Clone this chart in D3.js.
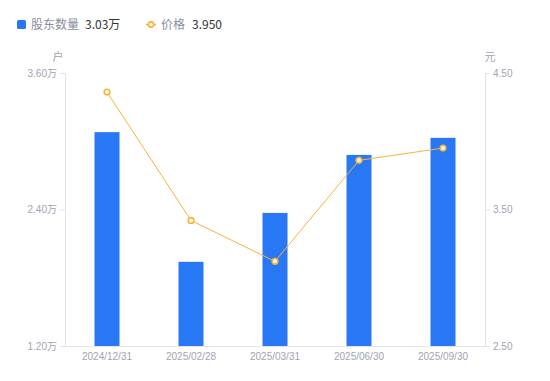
<!DOCTYPE html>
<html><head><meta charset="utf-8">
<script src="https://cdn.jsdelivr.net/npm/d3@7/dist/d3.min.js"></script>
<style>body{margin:0;background:#fff;}svg{display:block;font-family:"Noto Sans CJK SC","Noto Sans",sans-serif;}</style>
</head><body><svg id="c" width="550" height="381"></svg>
<script>
const categories = ["2024/12/31","2025/02/28","2025/03/31","2025/06/30","2025/09/30"];
const holders = [3.08, 1.94, 2.37, 2.88, 3.03]; // 万户
const prices = [4.36, 3.42, 3.12, 3.86, 3.95];
const leftTicks = [1.2, 2.4, 3.6];
const rightTicks = [2.5, 3.5, 4.5];

const svg = d3.select("#c");
const m = {l:65, r:485, t:73, b:346};
const x = d3.scaleBand().domain(categories).range([m.l, m.r]);
const yL = d3.scaleLinear().domain([1.2, 3.6]).range([m.b, m.t]);
const yR = d3.scaleLinear().domain([2.5, 4.5]).range([m.b, m.t]);
const axisColor = "#e3e3e8", textColor = "#a0a3b3";

// axes
const gl = svg.append("g").attr("transform", `translate(${m.l},0)`)
  .call(d3.axisLeft(yL).tickValues(leftTicks).tickSize(5).tickPadding(3).tickFormat(d => d3.format(".2f")(d) + "万"));
const gr = svg.append("g").attr("transform", `translate(${m.r},0)`)
  .call(d3.axisRight(yR).tickValues(rightTicks).tickSize(5).tickPadding(3).tickFormat(d3.format(".2f")));
const gx = svg.append("g").attr("transform", `translate(0,${m.b})`)
  .call(d3.axisBottom(x).tickSize(0).tickPadding(7));
[gl, gr, gx].forEach(g => {
  g.selectAll(".domain").attr("stroke", axisColor);
  g.selectAll(".tick line").attr("stroke", axisColor);
  g.selectAll("text").attr("fill", textColor).style("font-size", "10px").style("font-family", '"Liberation Sans","Noto Sans CJK SC",sans-serif');
});
gx.select(".domain").attr("d", `M${m.l-5},0.5H${m.r+5}`);

svg.append("text").attr("x", 58).attr("y", 61).attr("text-anchor", "middle")
  .attr("fill", textColor).style("font-size", "11px").text("户");
svg.append("text").attr("x", 490).attr("y", 61).attr("text-anchor", "middle")
  .attr("fill", textColor).style("font-size", "11px").text("元");

// bars
const bw = 25;
svg.append("g").selectAll("rect").data(holders).join("rect")
  .attr("x", (d,i) => x(categories[i]) + x.bandwidth()/2 - bw/2)
  .attr("width", bw)
  .attr("y", d => yL(d))
  .attr("height", d => m.b - yL(d))
  .attr("fill", "#2878f5");

// line
const orange = "#fbb238";
const line = d3.line().x((d,i) => x(categories[i]) + x.bandwidth()/2).y(d => yR(d));
svg.append("path").datum(prices).attr("d", line).attr("fill", "none")
  .attr("stroke", orange).attr("stroke-width", 1);
svg.append("g").selectAll("circle").data(prices).join("circle")
  .attr("cx", (d,i) => x(categories[i]) + x.bandwidth()/2)
  .attr("cy", d => yR(d)).attr("r", 2.8)
  .attr("fill", "#fff").attr("stroke", orange).attr("stroke-width", 1.6);

// legend
const lg = svg.append("g");
lg.append("rect").attr("x", 17).attr("y", 20).attr("width", 9).attr("height", 9).attr("rx", 1.5).attr("fill", "#2878f5");
lg.append("text").attr("x", 31).attr("y", 29).attr("fill", "#8a8d9c").style("font-size", "12px").text("股东数量");
lg.append("text").attr("x", 85).attr("y", 29).attr("fill", "#333").style("font-size", "12px").text("3.03万");
lg.append("line").attr("x1", 146).attr("x2", 156).attr("y1", 24.5).attr("y2", 24.5).attr("stroke", orange).attr("stroke-width", 1.5);
lg.append("circle").attr("cx", 151).attr("cy", 24.5).attr("r", 2.6).attr("fill", "#fff").attr("stroke", orange).attr("stroke-width", 1.6);
lg.append("text").attr("x", 161).attr("y", 29).attr("fill", "#8a8d9c").style("font-size", "12px").text("价格");
lg.append("text").attr("x", 192).attr("y", 29).attr("fill", "#333").style("font-size", "12px").text("3.950");
</script></body></html>
